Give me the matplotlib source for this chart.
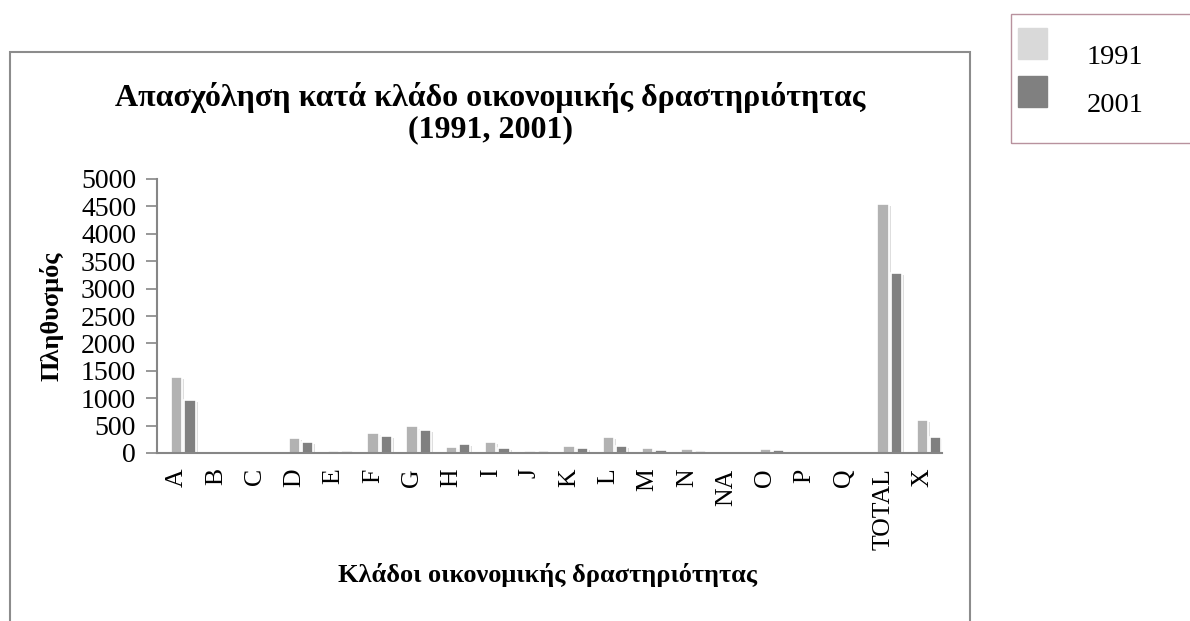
import matplotlib
matplotlib.use("Agg")
import matplotlib.pyplot as plt
import matplotlib.patches as mpatches
import matplotlib.patheffects as pe
import numpy as np

# κλάδοι και τιμές (εκτίμηση από την εικόνα)
categories = ["A", "B", "C", "D", "E", "F", "G", "H", "I", "J",
              "K", "L", "M", "N", "NA", "O", "P", "Q", "TOTAL", "X"]
pop_1991 = [1380, 0, 0, 275, 35, 360, 485, 110, 195, 30,
            135, 300, 100, 65, 0, 80, 8, 0, 4550, 597]
pop_2001 = [975, 0, 0, 195, 30, 310, 425, 160, 90, 30,
            85, 135, 55, 30, 0, 55, 5, 0, 3290, 292]
series_names = ["1991", "2001"]
y_ticks = list(range(0, 5001, 500))

W, H = 1190, 621
fig = plt.figure(figsize=(W / 100, H / 100), dpi=100)
serif = ["Liberation Serif", "DejaVu Serif"]
plt.rcParams['font.family'] = serif

ax = fig.add_axes([157 / W, 1 - 453 / H, (942 - 157) / W, (453 - 179) / H])

x = np.arange(len(categories))
shadow = [pe.SimplePatchShadow(offset=(1.5, -1.5), shadow_rgbFace="#c8c8c8", alpha=0.6), pe.Normal()]
b1 = ax.bar(x, pop_1991, width=0.29, color="#b2b2b2", edgecolor="white", linewidth=1.2)
b2 = ax.bar(x + 0.34, pop_2001, width=0.29, color="#808080", edgecolor="white", linewidth=1.2)
for b in list(b1) + list(b2):
    b.set_path_effects(shadow)

ax.set_xlim(-0.5, len(categories) - 0.5)
ax.set_ylim(0, 5000)
ax.set_yticks(y_ticks)
ax.set_yticklabels([str(v) for v in y_ticks], fontsize=20)
ax.set_xticks(x)
ax.set_xticklabels(categories, rotation=90, fontsize=18.5, va="top")
ax.tick_params(axis="x", length=0, pad=11)
ax.tick_params(axis="y", length=8, width=1.2, color="#868686", pad=7, direction="out")
for s in ["top", "right"]:
    ax.spines[s].set_visible(False)
for s in ["left", "bottom"]:
    ax.spines[s].set_color("#868686")
    ax.spines[s].set_linewidth(1.5)

# τίτλος και ετικέτες αξόνων
fig.text(490 / W, 1 - 113 / H, "Απασχόληση κατά κλάδο οικονομικής δραστηριότητας\n(1991, 2001)",
         ha="center", va="center", fontsize=23, fontweight="bold", linespacing=1.08)
fig.text(52 / W, 1 - 316 / H, "Πληθυσμός", rotation=90, ha="center", va="center",
         fontsize=19, fontweight="bold")
fig.text(548 / W, 1 - 575 / H, "Κλάδοι οικονομικής δραστηριότητας", ha="center", va="center",
         fontsize=19, fontweight="bold")

# πλαίσιο γραφήματος
fig.patches.append(mpatches.Rectangle((9.5 / W, -0.1), (970 - 9.5) / W, 1.1 - 52.5 / H,
                                      transform=fig.transFigure, fill=False,
                                      edgecolor="#8c8c8c", linewidth=1.5))

# υπόμνημα
fig.patches.append(mpatches.Rectangle((1011 / W, 1 - 142.5 / H), 200 / W, (142.5 - 14.5) / H,
                                      transform=fig.transFigure, fill=False,
                                      edgecolor="#b8929e", linewidth=1.0))
swatch_colors = ["#d9d9d9", "#808080"]
for i, name in enumerate(series_names):
    top = 28 + i * 48
    fig.patches.append(mpatches.Rectangle((1018 / W, 1 - (top + 31) / H), 29 / W, 31 / H,
                                          transform=fig.transFigure, color=swatch_colors[i]))
    fig.text(1087 / W, 1 - (top + 29) / H, name, ha="left", va="center", fontsize=20.5)

fig.savefig("out.png", dpi=100)
